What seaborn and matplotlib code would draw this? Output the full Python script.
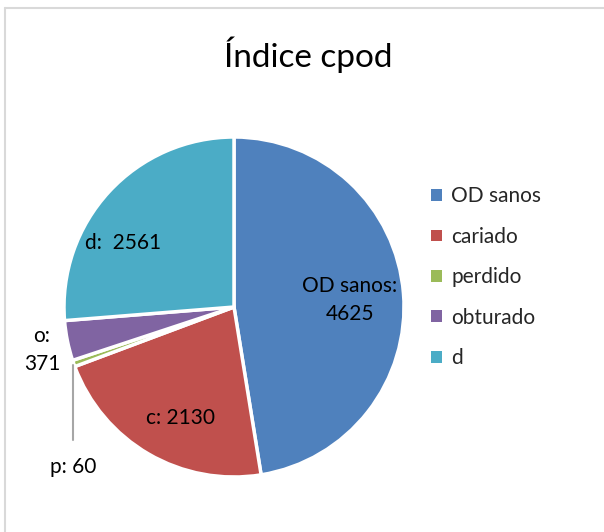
import matplotlib.pyplot as plt
import seaborn as sns
from matplotlib.patches import Patch
from matplotlib.lines import Line2D

# Data
labels = ['OD sanos', 'cariado', 'perdido', 'obturado', 'd']
values = [4625, 2130, 60, 371, 2561]
slice_text = ['OD sanos:\n4625', 'c: 2130', 'p: 60', 'o:\n371', 'd:  2561']
colors = ['#4F81BD', '#C0504D', '#9BBB59', '#8064A2', '#4BACC6']

sns.set_theme(style='white')
plt.rcParams['font.family'] = ['Lato', 'DejaVu Sans']

W, H = 604, 532
fig = plt.figure(figsize=(W / 100, H / 100), dpi=100)

# pie centre / radius in pixels
cx, cy, r = 234, 307, 170
ax = fig.add_axes([(cx - r) / W, (H - cy - r) / H, 2 * r / W, 2 * r / H])
wedges, _ = ax.pie(values, colors=colors, startangle=90, counterclock=False,
                   radius=1, wedgeprops=dict(edgecolor='white', linewidth=2.5))
ax.set_xlim(-1, 1)
ax.set_ylim(-1, 1)
ax.set_aspect('equal')


def px(x, y):
    return (x - cx) / r, (cy - y) / r


label_pos = [(350, 300), (180, 418), (73, 467), (42, 350), (123, 243)]
for txt, (x, y) in zip(slice_text, label_pos):
    ax.text(*px(x, y), txt, ha='center', va='center', fontsize=15,
            color='black', linespacing=1.5, clip_on=False)

# leader line for the tiny slice
ax.add_line(Line2D([px(73, 365)[0], px(73, 440)[0]],
                   [px(73, 365)[1], px(73, 440)[1]],
                   color='#a6a6a6', lw=1.5, clip_on=False))

# title
fig.text(308 / W, 1 - 55 / H, 'Índice cpod', ha='center', va='center',
         fontsize=24, color='black')

# legend
handles = [Patch(facecolor=c, edgecolor='none') for c in colors]
fig.legend(handles, labels, loc='upper left', bbox_to_anchor=(421 / W, 1 - 176 / H),
           frameon=False, fontsize=15, handlelength=0.5, handleheight=0.5,
           handletextpad=0.45, labelspacing=0.98, borderpad=0)

# chart area border (top and left visible)
fig.add_artist(Line2D([5 / W, 1], [1 - 8 / H, 1 - 8 / H], transform=fig.transFigure,
                      color='#d9d9d9', lw=1.5))
fig.add_artist(Line2D([5 / W, 5 / W], [0, 1 - 8 / H], transform=fig.transFigure,
                      color='#d9d9d9', lw=1.5))

fig.savefig('out.png', dpi=100)
